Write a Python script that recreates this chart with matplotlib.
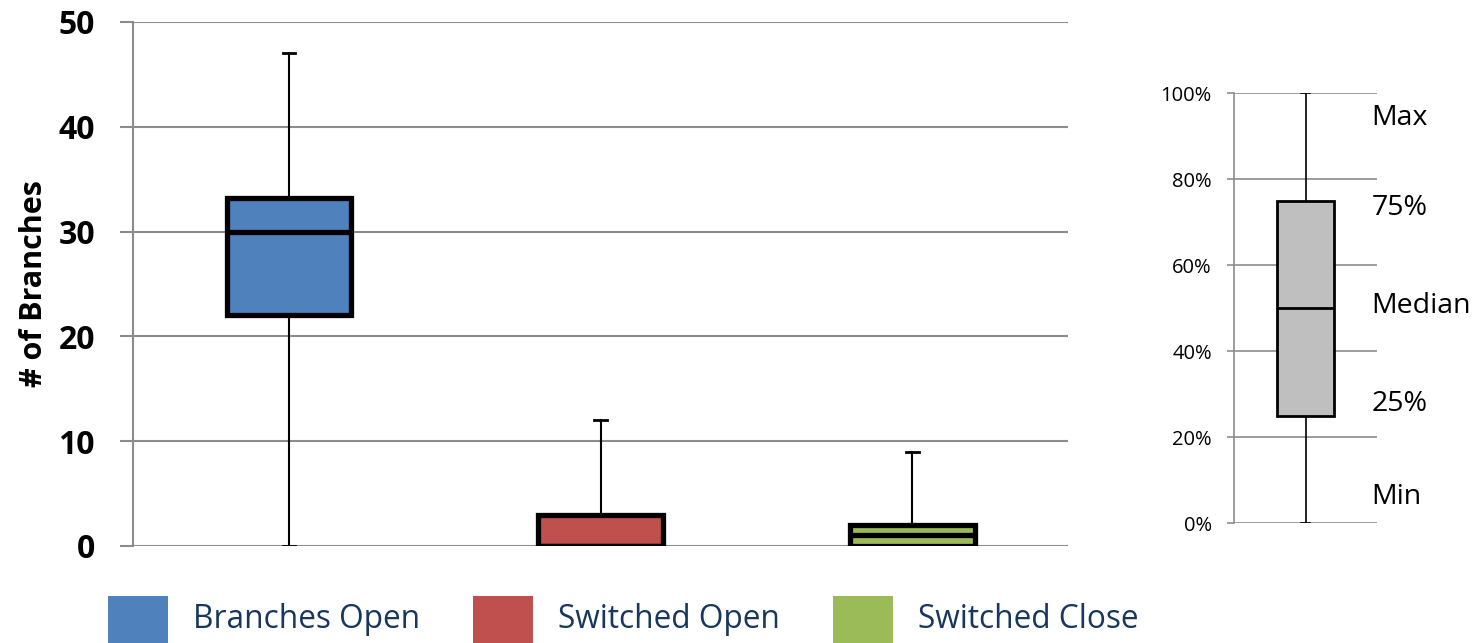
import matplotlib.pyplot as plt
from matplotlib.patches import Rectangle
from matplotlib.ticker import FuncFormatter

# data
categories = ['Branches Open', 'Switched Open', 'Switched Close']
colors = ['#4F81BD', '#C0504D', '#9BBB59']
mins = [0, 0, 0]
q1s = [22, 0, 0]
medians = [30, 0, 1]
q3s = [33.2, 3, 2]
maxs = [47, 12, 9]

# key box (explains the percentiles)
key_stats = [0, 25, 50, 75, 100]
key_labels = ['Min', '25%', 'Median', '75%', 'Max']
key_label_y = [6, 27.7, 50.5, 73.3, 94.2]

plt.rcParams['font.family'] = ['Open Sans', 'DejaVu Sans']
grid_col = '#8C8C8C'

fig = plt.figure(figsize=(14.8, 6.43), dpi=100)

# main chart
ax = fig.add_axes([0.0899, 0.1509, 0.6318, 0.8149])
stats = []
for lo, a, m, b, hi, name in zip(mins, q1s, medians, q3s, maxs, categories):
    stats.append(dict(whislo=lo, q1=a, med=m, q3=b, whishi=hi, label=name, fliers=[]))
bp = ax.bxp(stats, positions=[1, 2, 3], widths=0.4, capwidths=0.04,
            patch_artist=True, showfliers=False,
            boxprops=dict(linewidth=3.8, edgecolor='black'),
            medianprops=dict(linewidth=3.8, color='black'),
            whiskerprops=dict(linewidth=1.5, color='black'),
            capprops=dict(linewidth=2, color='black'))
for patch, c in zip(bp['boxes'], colors):
    patch.set_facecolor(c)
    patch.set_zorder(3)
for m in bp['medians']:
    m.set_zorder(4)

ax.set_xlim(0.5, 3.5)
ax.set_ylim(0, 50)
ax.set_yticks(range(0, 51, 10))
ax.set_xticks([])
ax.yaxis.grid(True, color=grid_col, linewidth=1.5)
ax.set_axisbelow(True)
for s in ['top', 'right', 'bottom']:
    ax.spines[s].set_visible(False)
ax.spines['left'].set_color(grid_col)
ax.spines['left'].set_linewidth(1.5)
ax.tick_params(axis='y', length=9.4, width=1.5, color=grid_col, pad=18,
               labelsize=23)
for lab in ax.get_yticklabels():
    lab.set_fontweight('bold')
ax.set_ylabel('# of Branches', fontsize=22, fontweight='bold')
ax.yaxis.set_label_coords(-0.09, 0.5)

# key panel
ax2 = fig.add_axes([0.8338, 0.1866, 0.0966, 0.6687])
kb = ax2.bxp([dict(whislo=key_stats[0], q1=key_stats[1], med=key_stats[2],
                   q3=key_stats[3], whishi=key_stats[4], fliers=[])],
             positions=[1], widths=0.8, capwidths=0.12,
             patch_artist=True, showfliers=False,
             boxprops=dict(linewidth=2, edgecolor='black', facecolor='#BFBFBF'),
             medianprops=dict(linewidth=2, color='black'),
             whiskerprops=dict(linewidth=1.2, color='black'),
             capprops=dict(linewidth=1.2, color='black'))
kb['boxes'][0].set_zorder(3)
kb['medians'][0].set_zorder(4)
ax2.set_xlim(0, 2)
ax2.set_ylim(0, 100)
ax2.set_yticks(range(0, 101, 20))
ax2.yaxis.set_major_formatter(FuncFormatter(lambda v, p: f'{v:.0f}%'))
ax2.set_xticks([])
ax2.yaxis.grid(True, color=grid_col, linewidth=1.2)
ax2.set_axisbelow(True)
for s in ['top', 'right', 'bottom']:
    ax2.spines[s].set_visible(False)
ax2.spines['left'].set_color(grid_col)
ax2.spines['left'].set_linewidth(1.2)
ax2.tick_params(axis='y', length=5, width=1.2, color=grid_col, pad=11,
                labelsize=14.5)
for lab, y in zip(key_labels, key_label_y):
    ax2.text(1.92, y, lab, fontsize=20.5, va='center', ha='left')

# legend
leg_x = [108, 473, 833]
for x, c, name in zip(leg_x, colors, categories):
    fig.add_artist(Rectangle((x / 1480, 0), 60 / 1480, 47 / 643,
                             transform=fig.transFigure, facecolor=c,
                             edgecolor='none'))
    fig.text((x + 85) / 1480, 1 - 619 / 643, name, fontsize=22.8,
             color='#17375E', va='center', ha='left')

fig.savefig('out.png', dpi=100)
